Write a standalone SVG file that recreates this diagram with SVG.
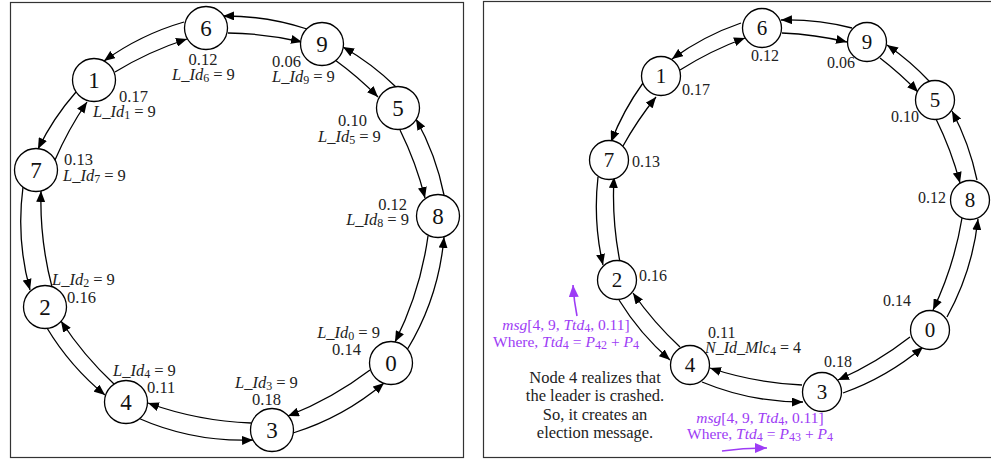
<svg xmlns="http://www.w3.org/2000/svg" width="991" height="459" viewBox="0 0 991 459">
<style>
.frame{fill:none;stroke:#333;stroke-width:1.2}
.nd circle{fill:#fff;stroke:#000;stroke-width:1.3}
.nd text{font-family:"Liberation Serif",serif;fill:#111;text-anchor:middle}
.L text{font-size:23px}
.R text{font-size:21px}
.e path{fill:none;stroke:#000;stroke-width:1.3;marker-end:url(#ah)}
.lbl{font-family:"Liberation Serif",serif;font-size:16.5px;fill:#222}
.rl{font-family:"Liberation Serif",serif;font-size:16px;fill:#222}
.i{font-style:italic}
.sub{font-size:12px}
.pu{font-family:"Liberation Serif",serif;font-size:15.5px;fill:#9d3cf5;text-anchor:middle}
.bk{font-family:"Liberation Serif",serif;font-size:16.5px;fill:#222;text-anchor:middle}
.pa{fill:none;stroke:#9d3cf5;stroke-width:1.6;marker-end:url(#pah)}
</style>
<defs>
<marker id="ah" markerWidth="11" markerHeight="9" refX="11" refY="4.5" orient="auto" markerUnits="userSpaceOnUse"><path d="M0,0 L11,4.5 L0,9 z" fill="#000"/></marker>
<marker id="pah" markerWidth="12" markerHeight="10" refX="12" refY="5" orient="auto" markerUnits="userSpaceOnUse"><path d="M0,0 L12,5 L0,10 z" fill="#9d3cf5"/></marker>
</defs>
<rect class="frame" x="10.5" y="2.5" width="453" height="455"/>
<rect class="frame" x="483.5" y="1.5" width="530" height="456"/>

<g id="connectors-left" class="e">
<path d="M307,29 A260,260 0 0 0 223,16"/>
<path d="M184,22 A260,260 0 0 0 104,61"/>
<path d="M76,92 A260,260 0 0 0 38,149"/>
<path d="M23,187 A260,260 0 0 0 30,290"/>
<path d="M47,328 A260,260 0 0 0 105,395"/>
<path d="M138,418 A260,260 0 0 0 253,440"/>
<path d="M293,433 A260,260 0 0 0 384,383"/>
<path d="M407,350 A260,260 0 0 0 444,237"/>
<path d="M444,195 A260,260 0 0 0 416,119"/>
<path d="M396,87 A260,260 0 0 0 343,47"/>
<path d="M228,33 A340,340 0 0 1 302,42"/>
<path d="M335,60 A340,340 0 0 1 378,97"/>
<path d="M400,130 A340,340 0 0 1 425,198"/>
<path d="M428,236 A340,340 0 0 1 395,342"/>
<path d="M370,370 A340,340 0 0 1 288,416"/>
<path d="M251,423 A340,340 0 0 1 148,403"/>
<path d="M114,384 A340,340 0 0 1 61,321"/>
<path d="M52,287 A340,340 0 0 1 41,191"/>
<path d="M55,160 A340,340 0 0 1 87,102"/>
<path d="M115,72 A340,340 0 0 1 187,39"/>
</g>

<g id="connectors-right" class="e">
<path d="M852,28 A260,260 0 0 0 781,20"/>
<path d="M741,23 A260,260 0 0 0 672,59"/>
<path d="M643,83 A260,260 0 0 0 611,142"/>
<path d="M598,177 A260,260 0 0 0 603,265"/>
<path d="M619,300 A260,260 0 0 0 670,360"/>
<path d="M702,382 A260,260 0 0 0 803,402"/>
<path d="M843,393 A260,260 0 0 0 923,347"/>
<path d="M947,317 A260,260 0 0 0 978,219"/>
<path d="M977,180 A260,260 0 0 0 952,111"/>
<path d="M930,82 A260,260 0 0 0 887,45"/>
<path d="M782,33 A340,340 0 0 1 847,42"/>
<path d="M880,58 A340,340 0 0 1 918,92"/>
<path d="M936,119 A340,340 0 0 1 960,183"/>
<path d="M962,218 A340,340 0 0 1 933,310"/>
<path d="M910,337 A340,340 0 0 1 838,380"/>
<path d="M802,385 A340,340 0 0 1 710,368"/>
<path d="M680,347 A340,340 0 0 1 633,293"/>
<path d="M620,262 A340,340 0 0 1 614,177"/>
<path d="M623,146 A340,340 0 0 1 656,97"/>
<path d="M680,70 A340,340 0 0 1 745,38"/>
</g>

<g id="L6" class="nd L"><circle cx="206" cy="28" r="21.5"/><text x="206" y="36">6</text></g>
<g id="L9" class="nd L"><circle cx="322" cy="44" r="21.5"/><text x="322" y="52">9</text></g>
<g id="L1" class="nd L"><circle cx="94" cy="80" r="21.5"/><text x="94" y="88">1</text></g>
<g id="L5" class="nd L"><circle cx="398" cy="108" r="21.5"/><text x="398" y="116">5</text></g>
<g id="L7" class="nd L"><circle cx="36" cy="170" r="21.5"/><text x="36" y="178">7</text></g>
<g id="L8" class="nd L"><circle cx="438" cy="216" r="21.5"/><text x="438" y="224">8</text></g>
<g id="L2" class="nd L"><circle cx="45" cy="307" r="21.5"/><text x="45" y="315">2</text></g>
<g id="L4" class="nd L"><circle cx="126" cy="402" r="21.5"/><text x="126" y="410">4</text></g>
<g id="L3" class="nd L"><circle cx="272" cy="430" r="21.5"/><text x="272" y="438">3</text></g>
<g id="L0" class="nd L"><circle cx="391" cy="363" r="21.5"/><text x="391" y="371">0</text></g>

<g id="left-labels">
<text class="lbl" x="203" y="65" text-anchor="middle">0.12</text>
<text class="lbl" x="172" y="80"><tspan class="i">L_Id</tspan><tspan class="sub" dy="2">6</tspan><tspan dy="-2" dx="4">= 9</tspan></text>
<text class="lbl" x="272" y="67">0.06</text>
<text class="lbl" x="272" y="82"><tspan class="i">L_Id</tspan><tspan class="sub" dy="2">9</tspan><tspan dy="-2" dx="4">= 9</tspan></text>
<text class="lbl" x="119" y="102">0.17</text>
<text class="lbl" x="93" y="117"><tspan class="i">L_Id</tspan><tspan class="sub" dy="2">1</tspan><tspan dy="-2" dx="4">= 9</tspan></text>
<text class="lbl" x="338" y="126">0.10</text>
<text class="lbl" x="318" y="142"><tspan class="i">L_Id</tspan><tspan class="sub" dy="2">5</tspan><tspan dy="-2" dx="4">= 9</tspan></text>
<text class="lbl" x="64" y="165">0.13</text>
<text class="lbl" x="63" y="181"><tspan class="i">L_Id</tspan><tspan class="sub" dy="2">7</tspan><tspan dy="-2" dx="4">= 9</tspan></text>
<text class="lbl" x="407" y="210" text-anchor="end">0.12</text>
<text class="lbl" x="409" y="225" text-anchor="end"><tspan class="i">L_Id</tspan><tspan class="sub" dy="2">8</tspan><tspan dy="-2" dx="4">= 9</tspan></text>
<text class="lbl" x="52" y="285"><tspan class="i">L_Id</tspan><tspan class="sub" dy="2">2</tspan><tspan dy="-2" dx="4">= 9</tspan></text>
<text class="lbl" x="67" y="303">0.16</text>
<text class="lbl" x="380" y="338" text-anchor="end"><tspan class="i">L_Id</tspan><tspan class="sub" dy="2">0</tspan><tspan dy="-2" dx="4">= 9</tspan></text>
<text class="lbl" x="332" y="355">0.14</text>
<text class="lbl" x="113" y="376"><tspan class="i">L_Id</tspan><tspan class="sub" dy="2">4</tspan><tspan dy="-2" dx="4">= 9</tspan></text>
<text class="lbl" x="147" y="393">0.11</text>
<text class="lbl" x="235" y="388"><tspan class="i">L_Id</tspan><tspan class="sub" dy="2">3</tspan><tspan dy="-2" dx="4">= 9</tspan></text>
<text class="lbl" x="252" y="405">0.18</text>
</g>

<g id="R6" class="nd R"><circle cx="762" cy="28" r="19.5"/><text x="762" y="35">6</text></g>
<g id="R9" class="nd R"><circle cx="867" cy="42" r="19.5"/><text x="867" y="49">9</text></g>
<g id="R1" class="nd R"><circle cx="661" cy="76" r="19.5"/><text x="661" y="83">1</text></g>
<g id="R5" class="nd R"><circle cx="935" cy="100" r="19.5"/><text x="935" y="107">5</text></g>
<g id="R7" class="nd R"><circle cx="609" cy="160" r="19.5"/><text x="609" y="167">7</text></g>
<g id="R8" class="nd R"><circle cx="970" cy="200" r="19.5"/><text x="970" y="207">8</text></g>
<g id="R2" class="nd R"><circle cx="617" cy="280" r="19.5"/><text x="617" y="287">2</text></g>
<g id="R4" class="nd R"><circle cx="690" cy="365" r="19.5"/><text x="690" y="372">4</text></g>
<g id="R3" class="nd R"><circle cx="822" cy="392" r="19.5"/><text x="822" y="399">3</text></g>
<g id="R0" class="nd R"><circle cx="930" cy="330" r="19.5"/><text x="930" y="337">0</text></g>

<g id="right-labels">
<text class="rl" x="751" y="61">0.12</text>
<text class="rl" x="827" y="68">0.06</text>
<text class="rl" x="682" y="95">0.17</text>
<text class="rl" x="891" y="122">0.10</text>
<text class="rl" x="632" y="167">0.13</text>
<text class="rl" x="918" y="203">0.12</text>
<text class="rl" x="639" y="281">0.16</text>
<text class="rl" x="883" y="306">0.14</text>
<text class="rl" x="708" y="338">0.11</text>
<text class="rl" x="705" y="353" font-size="15"><tspan class="i">N_Id_Mlc</tspan><tspan class="sub" font-size="10.5" dy="2">4</tspan><tspan dy="-2" dx="4">= 4</tspan></text>
<text class="rl" x="824" y="367">0.18</text>
</g>

<g id="note">
<text class="bk" x="595" y="383">Node 4 realizes that</text>
<text class="bk" x="595" y="401">the leader is crashed.</text>
<text class="bk" x="595" y="420">So, it creates an</text>
<text class="bk" x="595" y="438">election message.</text>
</g>

<g id="msg-left">
<path class="pa" d="M577,316 Q574,301 573,285"/>
<text class="pu" x="566" y="330"><tspan class="i">msg</tspan>[4, 9, <tspan class="i">Ttd</tspan><tspan class="sub" dy="2">4</tspan><tspan dy="-2">, 0.11]</tspan></text>
<text class="pu" x="566" y="347">Where, <tspan class="i">Ttd</tspan><tspan class="sub" dy="2">4</tspan><tspan dy="-2" dx="4">= </tspan><tspan class="i">P</tspan><tspan class="sub" dy="2">42</tspan><tspan dy="-2" dx="4">+ </tspan><tspan class="i">P</tspan><tspan class="sub" dy="2">4</tspan></text>
</g>

<g id="msg-bottom">
<text class="pu" x="760" y="423"><tspan class="i">msg</tspan>[4, 9, <tspan class="i">Ttd</tspan><tspan class="sub" dy="2">4</tspan><tspan dy="-2">, 0.11]</tspan></text>
<text class="pu" x="760" y="439">Where, <tspan class="i">Ttd</tspan><tspan class="sub" dy="2">4</tspan><tspan dy="-2" dx="4">= </tspan><tspan class="i">P</tspan><tspan class="sub" dy="2">43</tspan><tspan dy="-2" dx="4">+ </tspan><tspan class="i">P</tspan><tspan class="sub" dy="2">4</tspan></text>
<path class="pa" d="M722,451 Q745,448 767,448"/>
</g>
</svg>
